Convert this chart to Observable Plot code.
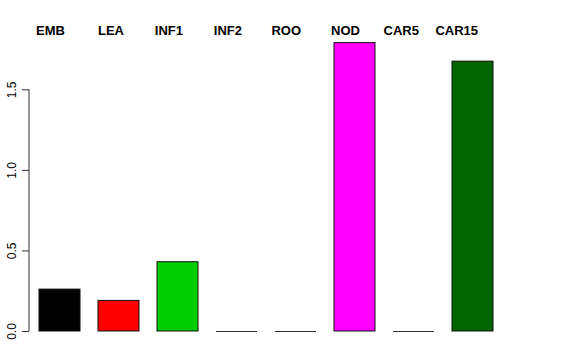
<!DOCTYPE html>
<html>
<head>
<meta charset="utf-8">
<script src="https://cdn.jsdelivr.net/npm/d3@7"></script>
<script src="https://cdn.jsdelivr.net/npm/@observablehq/plot@0.6"></script>
<style>
  html, body { margin: 0; padding: 0; background: #fff; }
  #chart svg { display: block; }
</style>
</head>
<body>
<div id="chart"></div>
<script>
const categories = ["EMB", "LEA", "INF1", "INF2", "ROO", "NOD", "CAR5", "CAR15"];
const values = [0.26, 0.19, 0.43, 0, 0, 1.79, 0, 1.675];
const barColors = ["#000000", "#FF0000", "#00CD00", "#0000FF", "#00FFFF", "#FF00FF", "#FFFF00", "#006400"];
const yTicks = [0, 0.5, 1.0, 1.5];
const yTickLabels = ["0.0", "0.5", "1.0", "1.5"];

const data = categories.map((c, i) => ({cat: c, value: values[i]}));

const plot = Plot.plot({
  width: 576,
  height: 360,
  marginLeft: 29,
  marginRight: 72,
  marginTop: 41,
  marginBottom: 29,
  style: {fontFamily: "'Liberation Sans', Arial, Helvetica, sans-serif", fontSize: "12px", background: "#fff", color: "#000"},
  x: {domain: categories, paddingInner: 0.3, paddingOuter: 0.15, axis: null},
  y: {domain: [0, 1.8], axis: null},
  color: {domain: categories, range: barColors},
  marks: [
    Plot.barY(data, {x: "cat", y: "value", fill: "cat", stroke: "#111", strokeWidth: 1}),
    Plot.tickY(data.filter(d => d.value === 0), {x: "cat", y: "value", stroke: "#333", strokeWidth: 1}),
    Plot.axisY({
      ticks: yTicks,
      tickSize: 7,
      tickPadding: 7,
      tickRotate: -90,
      tickFormat: (d) => yTickLabels[yTicks.indexOf(d)],
      label: null,
      stroke: "#333",
      fontSize: 12
    }),
    Plot.text(data, {
      x: "cat",
      text: "cat",
      frameAnchor: "top",
      lineAnchor: "middle",
      dy: -11,
      dx: 5,
      textAnchor: "end",
      fontWeight: "bold",
      fontSize: 13,
      fill: "#000"
    })
  ]
});

// y axis line spanning the tick range, drawn from the plot's own y scale
const yScale = plot.scale("y");
const svg = d3.select(plot);
svg.append("line")
  .attr("x1", 29).attr("x2", 29)
  .attr("y1", yScale.apply(yTicks[0]))
  .attr("y2", yScale.apply(yTicks[yTicks.length - 1]))
  .attr("stroke", "#333")
  .attr("stroke-width", 1);

document.getElementById("chart").appendChild(plot);
</script>
</body>
</html>
